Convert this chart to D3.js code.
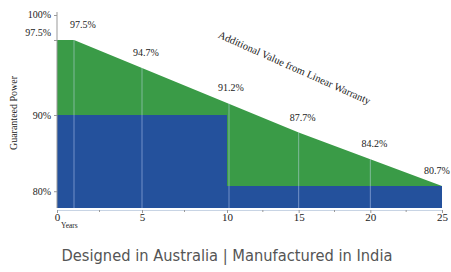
<!DOCTYPE html>
<html>
<head>
	<meta charset="UTF-8">
	<title>Linear warranty</title>
	<script src="https://cdn.jsdelivr.net/npm/d3@7"></script>
	<style>
		body { margin: 0; background: #fff; }
		text { font-family: "Liberation Serif", "DejaVu Serif", serif; fill: #222; }
	</style>
</head>
<body>
	<script>
		// data
		var years = [0, 1, 5, 10, 15, 20, 25];
		var linearPower = [97.5, 97.5, 94.7, 91.2, 87.7, 84.2, 80.7];
		var labelYears = [1, 5, 10, 15, 20, 25];
		var labelText = ['97.5%', '94.7%', '91.2%', '87.7%', '84.2%', '80.7%'];
		var stepYears = [0, 10, 25];
		var stepPower = [90, 80.7, 80.7];
		var yTicks = [100, 97.5, 90, 80];
		var yTickText = ['100%', '97.5%', '90%', '80%'];
		var xTicks = [0, 5, 10, 15, 20, 25];
		var gridYears = [1, 5, 10, 15, 20];

		var width = 451, height = 272;
		var bottom = 208;

		// the picture is drawn with a broken scale, so use piecewise ranges
		var x = d3.scaleLinear().domain([0, 10, 25]).range([57, 227, 442]);
		var y = d3.scaleLinear().domain([77.8, 90, 100]).range([bottom, 115, 15]);

		var svg = d3.select('body')
			.append('svg')
			.attr('width', width)
			.attr('height', height);

		var linear = years.map(function(d, i) { return {year: d, power: linearPower[i]}; });
		var step = stepYears.map(function(d, i) { return {year: d, power: stepPower[i]}; });

		// green: additional value from the linear warranty
		svg.append('path')
			.datum(linear)
			.attr('fill', '#3a9b47')
			.attr('d', d3.area()
				.x(function(d) { return x(d.year); })
				.y0(bottom)
				.y1(function(d) { return y(d.power); }));

		// blue: step warranty
		svg.append('path')
			.datum(step)
			.attr('fill', '#24519c')
			.attr('d', d3.area()
				.curve(d3.curveStepAfter)
				.x(function(d) { return x(d.year); })
				.y0(bottom)
				.y1(function(d) { return y(d.power); }));

		// faint vertical grid lines
		svg.selectAll('.grid')
			.data(gridYears)
			.enter().append('line')
			.attr('x1', function(d) { return x(d) + (d === 10 ? 2 : 0); })
			.attr('x2', function(d) { return x(d) + (d === 10 ? 2 : 0); })
			.attr('y1', function(d) { return y(linearPower[years.indexOf(d)]); })
			.attr('y2', bottom)
			.attr('stroke', 'rgba(210,225,255,0.45)')
			.attr('stroke-width', 1);

		// value labels
		svg.selectAll('.val')
			.data(labelYears)
			.enter().append('text')
			.attr('x', function(d, i) { return x(d) + (i === 0 ? 9 : i === 5 ? -5 : 4); })
			.attr('y', function(d, i) { return y(linearPower[years.indexOf(d)]) - 12; })
			.attr('text-anchor', 'middle')
			.attr('font-size', 10)
			.text(function(d, i) { return labelText[i]; });

		// y axis
		var yAxis = svg.append('g')
			.attr('transform', 'translate(57,0)')
			.call(d3.axisLeft(y).tickValues(yTicks).tickSize(3).tickFormat(function(d, i) { return yTickText[i]; }));
		yAxis.select('.domain').attr('stroke', '#999').attr('d', 'M0,' + y(100.3) + 'V' + bottom);
		yAxis.selectAll('.tick line').attr('stroke', '#999');
		yAxis.selectAll('.tick text')
			.attr('font-family', '"Liberation Serif", serif')
			.attr('font-size', 10)
			.attr('fill', '#222')
			.attr('dy', function(d) { return d === 97.5 ? '-0.45em' : d === 100 ? '0.2em' : '0.32em'; });

		// x axis
		var xAxis = svg.append('g')
			.attr('transform', 'translate(0,' + (bottom + 2) + ')')
			.call(d3.axisBottom(x).tickValues(xTicks).tickSize(3).tickFormat(d3.format('d')));
		xAxis.select('.domain').attr('stroke', '#c8d4e4');
		xAxis.selectAll('.tick line').attr('stroke', '#999');
		xAxis.selectAll('.tick text')
			.attr('font-family', '"Liberation Serif", serif')
			.attr('font-size', 11)
			.attr('fill', '#222')
			.attr('dy', '0.45em');
		svg.append('g').selectAll('line')
			.data([2.5, 7.5, 12.5, 17.5, 22.5])
			.enter().append('line')
			.attr('x1', function(d) { return x(d); })
			.attr('x2', function(d) { return x(d); })
			.attr('y1', bottom + 2)
			.attr('y2', bottom + 4)
			.attr('stroke', '#999');
		svg.append('text')
			.attr('x', x(0) + 4)
			.attr('y', bottom + 20)
			.attr('font-size', 7.5)
			.text('Years');

		// axis title
		svg.append('text')
			.attr('transform', 'translate(17,113) rotate(-90)')
			.attr('text-anchor', 'middle')
			.attr('font-size', 10)
			.text('Guaranteed Power');

		// diagonal note
		svg.append('text')
			.attr('transform', 'translate(293,71) rotate(24)')
			.attr('text-anchor', 'middle')
			.attr('font-size', 10.5)
			.text('Additional Value from Linear Warranty');

		// footer
		svg.append('text')
			.attr('x', 227)
			.attr('y', 261)
			.attr('text-anchor', 'middle')
			.attr('font-size', 15)
			.style('fill', '#555')
			.style('font-family', '"DejaVu Sans Condensed", "DejaVu Sans", sans-serif')
			.style('font-stretch', 'condensed')
			.attr('textLength', 331)
			.attr('lengthAdjust', 'spacingAndGlyphs')
			.text('Designed in Australia | Manufactured in India');
	</script>
</body>
</html>
